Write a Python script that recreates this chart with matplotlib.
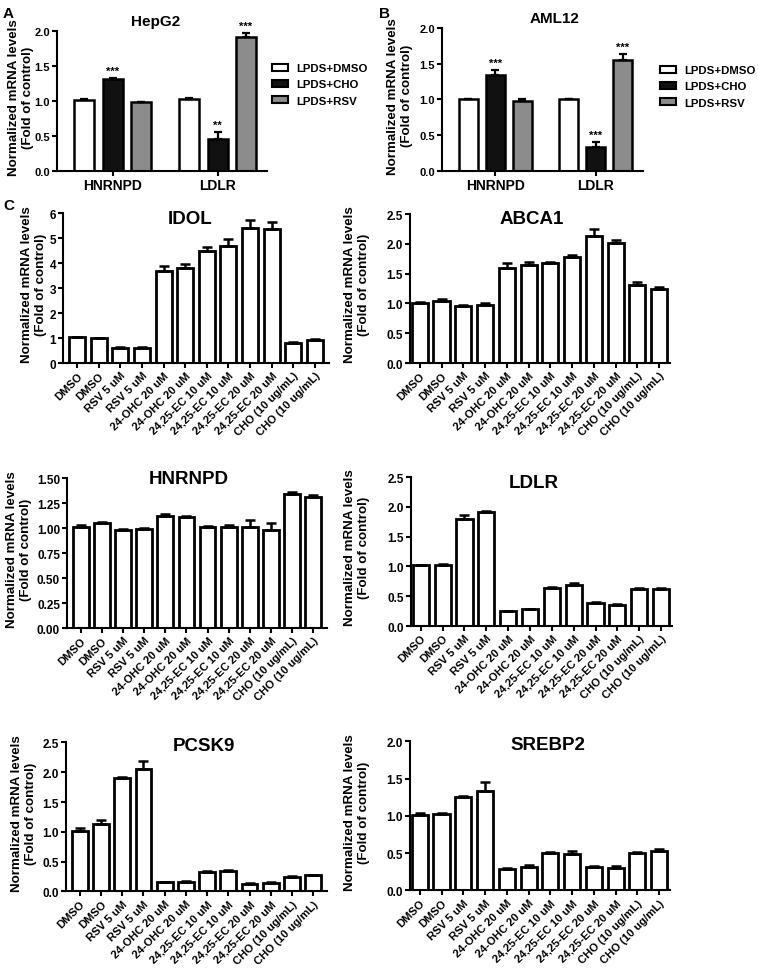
import numpy as np
import matplotlib
matplotlib.use("Agg")
import matplotlib.pyplot as plt
from matplotlib.patches import Patch

plt.rcParams['font.family'] = ['Liberation Sans', 'DejaVu Sans']
plt.rcParams['font.weight'] = 'bold'
plt.rcParams['axes.linewidth'] = 1.5

# panel A / B data
genes_ab = ['HNRNPD', 'LDLR']
groups_ab = ['LPDS+DMSO', 'LPDS+CHO', 'LPDS+RSV']
colors_ab = ['white', '#111111', '#8c8c8c']
hepg2_vals = [[1.02, 1.03], [1.32, 0.46], [0.98, 1.92]]
hepg2_err = [[0.01, 0.01], [0.005, 0.10], [0.01, 0.05]]
hepg2_stars = [['', ''], ['***', '**'], ['', '***']]
aml12_vals = [[1.00, 1.00], [1.34, 0.34], [0.98, 1.55]]
aml12_err = [[0.01, 0.01], [0.07, 0.06], [0.02, 0.09]]
aml12_stars = [['', ''], ['***', '***'], ['', '***']]

# panel C data
treatments = ['DMSO', 'DMSO', 'RSV 5 uM', 'RSV 5 uM', '24-OHC 20 uM', '24-OHC 20 uM',
              '24,25-EC 10 uM', '24,25-EC 10 uM', '24,25-EC 20 uM', '24,25-EC 20 uM',
              'CHO (10 ug/mL)', 'CHO (10 ug/mL)']
idol = [1.03, 1.00, 0.62, 0.62, 3.68, 3.80, 4.49, 4.68, 5.39, 5.36, 0.82, 0.92]
idol_err = [0.02, 0.02, 0.02, 0.02, 0.20, 0.16, 0.17, 0.30, 0.33, 0.30, 0.03, 0.04]
abca1 = [1.00, 1.04, 0.95, 0.97, 1.60, 1.65, 1.68, 1.78, 2.13, 2.02, 1.31, 1.24]
abca1_err = [0.02, 0.03, 0.03, 0.04, 0.08, 0.05, 0.02, 0.03, 0.12, 0.04, 0.05, 0.04]
hnrnpd = [1.01, 1.05, 0.98, 0.99, 1.12, 1.11, 1.01, 1.01, 1.01, 0.98, 1.34, 1.31]
hnrnpd_err = [0.02, 0.01, 0.01, 0.01, 0.02, 0.01, 0.01, 0.02, 0.07, 0.07, 0.02, 0.02]
ldlr = [1.02, 1.03, 1.80, 1.91, 0.25, 0.28, 0.64, 0.69, 0.38, 0.36, 0.62, 0.62]
ldlr_err = [0.01, 0.01, 0.06, 0.02, 0.01, 0.01, 0.01, 0.03, 0.02, 0.01, 0.01, 0.01]
pcsk9 = [1.02, 1.13, 1.90, 2.06, 0.15, 0.16, 0.33, 0.34, 0.13, 0.14, 0.25, 0.27]
pcsk9_err = [0.04, 0.06, 0.02, 0.12, 0.01, 0.01, 0.02, 0.02, 0.01, 0.01, 0.01, 0.01]
srebp2 = [1.01, 1.02, 1.26, 1.34, 0.29, 0.31, 0.50, 0.49, 0.31, 0.305, 0.50, 0.53]
srebp2_err = [0.03, 0.02, 0.01, 0.11, 0.01, 0.03, 0.02, 0.04, 0.02, 0.02, 0.02, 0.02]

ylab = 'Normalized mRNA levels\n(Fold of control)'

fig = plt.figure(figsize=(7.58, 9.70), dpi=100)


def style(ax, size):
    ax.spines['top'].set_visible(False)
    ax.spines['right'].set_visible(False)
    ax.tick_params(direction='out', length=3.5, width=1.5, labelsize=size, pad=1.5)
    for t in ax.get_yticklabels():
        t.set_fontweight('bold')


def grouped(rect, title, tx, vals, errs, stars, yl_x, leg_x, leg_y):
    ax = fig.add_axes(rect)
    x = np.arange(len(genes_ab))
    off = [-0.27, 0.0, 0.27]
    for i in range(3):
        v = np.array(vals[i])
        e = np.array(errs[i])
        ax.bar(x + off[i], v, 0.19, color=colors_ab[i], edgecolor='black', linewidth=1.8, zorder=2)
        ax.errorbar(x + off[i], v, yerr=[np.zeros_like(e), e], fmt='none', ecolor='black',
                    elinewidth=1.6, capsize=3, capthick=1.6, zorder=3)
        for j in range(len(x)):
            if stars[i][j]:
                ax.text(x[j] + off[i], v[j] + e[j] + 0.03, stars[i][j], ha='center', va='bottom',
                        fontsize=8, fontweight='bold')
    ax.set_ylim(0, 2.0)
    ax.set_yticks([0, 0.5, 1.0, 1.5, 2.0])
    ax.set_yticklabels(['0.0', '0.5', '1.0', '1.5', '2.0'])
    ax.set_xlim(-0.53, 1.47)
    ax.set_xticks(x)
    style(ax, 8.0)
    ax.set_xticklabels(genes_ab, fontsize=10, fontweight='bold')
    ax.set_ylabel(ylab, fontsize=9.6, fontweight='bold')
    ax.yaxis.set_label_coords(yl_x, 0.53)
    ax.text(tx, 1.07, title, transform=ax.transAxes, ha='center', va='center',
            fontsize=11, fontweight='bold')
    handles = [Patch(facecolor=c, edgecolor='black', linewidth=1.5) for c in colors_ab]
    ax.legend(handles, groups_ab, loc='upper left', bbox_to_anchor=(leg_x, leg_y), frameon=False,
              prop={'weight': 'bold', 'size': 8.2}, handlelength=1.4, handleheight=0.6,
              labelspacing=0.55, handletextpad=0.7, borderaxespad=0, borderpad=0)
    return ax


grouped([0.0752, 0.8227, 0.277, 0.1443], 'HepG2', 0.47, hepg2_vals, hepg2_err, hepg2_stars,
        -0.11, 1.024, 0.77)
grouped([0.5831, 0.8227, 0.2652, 0.1474], 'AML12', 0.56, aml12_vals, aml12_err, aml12_stars,
        -0.145, 1.085, 0.74)


def single(rect, title, tx, ty, vals, errs, ymax, yticks, fmt, xlim, yl_x):
    ax = fig.add_axes(rect)
    x = np.arange(len(treatments))
    v = np.array(vals)
    e = np.array(errs)
    ax.bar(x, v, 0.74, color='white', edgecolor='black', linewidth=2.0, zorder=2)
    ax.errorbar(x, v, yerr=[np.zeros_like(e), e], fmt='none', ecolor='black',
                elinewidth=1.8, capsize=3.5, capthick=1.8, zorder=3)
    ax.set_ylim(0, ymax)
    ax.set_yticks(yticks)
    ax.set_yticklabels([fmt.format(t) for t in yticks])
    ax.set_xlim(*xlim)
    ax.set_xticks(x)
    style(ax, 8.5)
    ax.set_xticklabels(treatments, rotation=45, ha='right', rotation_mode='anchor',
                       fontsize=8.1, fontweight='bold')
    ax.set_ylabel(ylab, fontsize=9.6, fontweight='bold')
    ax.yaxis.set_label_coords(yl_x, 0.53)
    ax.text(tx, ty, title, transform=ax.transAxes, ha='center', va='center',
            fontsize=13.5, fontweight='bold')
    return ax


left_lim = (-0.65, 11.65)
right_lim = (-0.45, 11.5)
single([0.0831, 0.6247, 0.351, 0.1546], 'IDOL', 0.477, 0.967, idol, idol_err, 6,
       [0, 1, 2, 3, 4, 5, 6], '{:.0f}', left_lim, -0.06)
single([0.5409, 0.6247, 0.343, 0.1536], 'ABCA1', 0.47, 0.973, abca1, abca1_err, 2.5,
       [0, 0.5, 1.0, 1.5, 2.0, 2.5], '{:.1f}', right_lim, -0.154)
single([0.0884, 0.3515, 0.343, 0.1546], 'HNRNPD', 0.47, 1.0, hnrnpd, hnrnpd_err, 1.5,
       [0, 0.25, 0.5, 0.75, 1.0, 1.25, 1.5], '{:.2f}', left_lim, -0.135)
single([0.5422, 0.3536, 0.3443, 0.1536], 'LDLR', 0.47, 0.96, ldlr, ldlr_err, 2.5,
       [0, 0.5, 1.0, 1.5, 2.0, 2.5], '{:.1f}', right_lim, -0.157)
single([0.0871, 0.0800, 0.3443, 0.1536], 'PCSK9', 0.53, 0.98, pcsk9, pcsk9_err, 2.5,
       [0, 0.5, 1.0, 1.5, 2.0, 2.5], '{:.1f}', left_lim, -0.111)
single([0.5409, 0.0810, 0.343, 0.1536], 'SREBP2', 0.53, 0.98, srebp2, srebp2_err, 2.0,
       [0, 0.5, 1.0, 1.5, 2.0], '{:.1f}', right_lim, -0.154)

# panel letters
fig.text(0.004, 0.993, 'A', fontsize=11, fontweight='bold', va='top')
fig.text(0.500, 0.993, 'B', fontsize=11, fontweight='bold', va='top')
fig.text(0.004, 0.795, 'C', fontsize=11, fontweight='bold', va='top')

fig.savefig('out.png', dpi=100)
